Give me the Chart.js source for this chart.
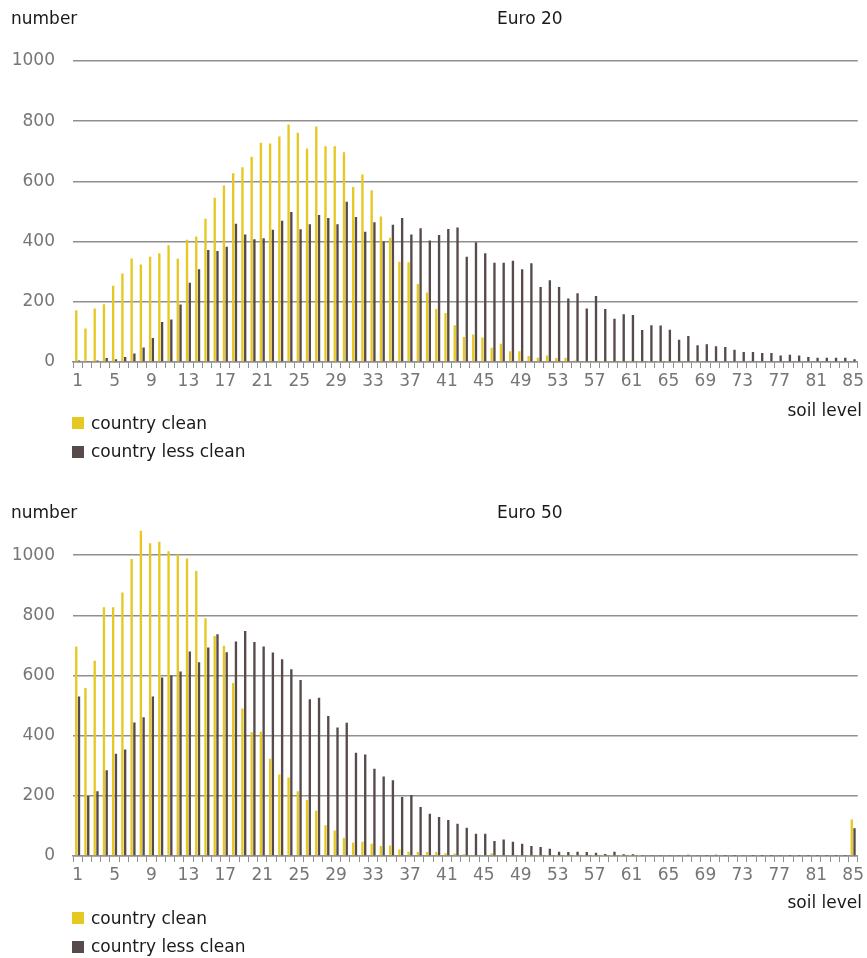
<!DOCTYPE html>
<html>
<head>
<meta charset="utf-8">
<script src="https://cdn.jsdelivr.net/npm/chart.js@4.4.1/dist/chart.umd.min.js"></script>
<style>
  html, body { margin: 0; padding: 0; background: #fff; overflow: hidden; }
  body { font-family: "DejaVu Sans", Verdana, sans-serif; width: 867px; height: 958px; }
  .panel { position: relative; width: 867px; }
  .panel canvas { position: absolute; left: 0; top: 0; }
  .txt { position: absolute; font-size: 17px; line-height: 20px; color: #1a1a1a; white-space: nowrap; }
  .sw { position: absolute; width: 12px; height: 12px; }
</style>
</head>
<body>

<div class="panel" id="p1" style="height:494px">
  <canvas id="euro20" width="867" height="494"></canvas>
  <span class="txt" style="left:11px; top:8px">number</span>
  <span class="txt" style="left:497px; top:8px">Euro 20</span>
  <span class="txt" style="right:5px; top:400px">soil level</span>
  <span class="sw" style="left:72px; top:417px; background:#E6C822"></span>
  <span class="txt" style="left:91px; top:413px">country clean</span>
  <span class="sw" style="left:72px; top:446px; background:#574A4B"></span>
  <span class="txt" style="left:91px; top:441px">country less clean</span>
</div>

<div class="panel" id="p2" style="height:464px">
  <canvas id="euro50" width="867" height="464"></canvas>
  <span class="txt" style="left:11px; top:8px">number</span>
  <span class="txt" style="left:497px; top:8px">Euro 50</span>
  <span class="txt" style="right:5px; top:398px">soil level</span>
  <span class="sw" style="left:72px; top:418px; background:#E6C822"></span>
  <span class="txt" style="left:91px; top:414px">country clean</span>
  <span class="sw" style="left:72px; top:447px; background:#574A4B"></span>
  <span class="txt" style="left:91px; top:442px">country less clean</span>
</div>

<script>
// soil levels 1..85
const soilLevels = [
  "1","2","3","4","5","6","7","8","9","10","11","12","13","14","15","16","17","18","19","20",
  "21","22","23","24","25","26","27","28","29","30","31","32","33","34","35","36","37","38","39","40",
  "41","42","43","44","45","46","47","48","49","50","51","52","53","54","55","56","57","58","59","60",
  "61","62","63","64","65","66","67","68","69","70","71","72","73","74","75","76","77","78","79","80",
  "81","82","83","84","85"
];

// Euro 20
const euro20Clean = [
  172,111,178,192,253,294,344,324,350,361,388,343,406,417,476,546,586,627,647,682,
  728,726,749,789,762,709,782,717,717,697,581,623,571,483,413,333,331,259,231,176,
  163,122,83,91,81,47,61,36,36,20,14,22,13,14,5,3,2,1,2,1,
  1,1,1,1,1,1,0,1,0,0,0,0,0,0,0,0,0,0,0,0,
  0,0,0,0,0
];
const euro20Less = [
  5,2,5,13,9,17,28,48,80,133,141,191,263,308,372,369,383,459,424,408,
  411,439,469,498,441,458,488,478,458,532,482,433,464,400,456,478,424,444,404,422,
  442,447,350,398,361,330,330,336,308,328,249,272,249,211,228,178,219,176,144,159,
  156,106,122,121,107,74,86,56,59,52,50,41,33,33,30,30,22,24,22,17,
  14,14,14,14,9
];

// Euro 50
const euro50Clean = [
  696,558,649,827,827,876,987,1081,1039,1044,1013,1002,989,947,790,731,699,575,490,411,
  413,323,271,261,215,186,150,102,85,61,44,47,41,33,35,22,14,13,13,13,
  9,8,6,3,2,9,2,2,2,1,1,1,1,1,1,1,1,1,1,1,
  1,1,0,0,0,0,0,0,0,0,0,0,0,0,0,0,0,0,0,0,
  0,0,0,0,121
];
const euro50Less = [
  530,199,215,285,340,354,444,461,530,593,600,613,680,644,693,737,677,713,748,711,
  696,676,654,621,585,521,526,465,427,443,343,337,290,264,252,196,203,163,140,130,
  120,107,94,74,74,50,55,47,41,33,30,24,14,13,14,13,11,7,14,6,
  6,3,2,3,2,2,4,2,1,4,1,1,2,1,1,1,2,1,1,1,
  1,1,1,1,92
];

const yTicksMax = 1000;
const yellow = "#E6C822";
const darkBrown = "#574A4B";
const gridGrey = "#8f8f8f";
const tickGrey = "#767676";
const fontFamily = "'DejaVu Sans', Verdana, sans-serif";

function makeChart(canvasId, clean, less, yMax, padTop) {
  const canvas = document.getElementById(canvasId);
  const xAxisHeight = canvas.height - 362;

  return new Chart(canvas.getContext("2d"), {
    type: "bar",
    data: {
      labels: soilLevels,
      datasets: [
        { label: "country clean", data: clean, backgroundColor: yellow, borderWidth: 0 },
        { label: "country less clean", data: less, backgroundColor: darkBrown, borderWidth: 0 },
      ],
    },
    options: {
      responsive: false,
      animation: false,
      categoryPercentage: 0.6,
      barPercentage: 0.85,
      layout: { padding: { top: padTop, right: 9, left: 0, bottom: 0 } },
      plugins: {
        legend: { display: false },
        tooltip: { enabled: false },
      },
      scales: {
        x: {
          offset: true,
          grid: {
            offset: true,
            drawOnChartArea: false,
            drawTicks: true,
            tickLength: 6,
            color: gridGrey,
            lineWidth: 1,
          },
          border: { display: true, color: gridGrey, width: 1.5 },
          ticks: {
            autoSkip: false,
            maxRotation: 0,
            minRotation: 0,
            padding: 3,
            color: tickGrey,
            font: { family: fontFamily, size: 17 },
            callback: function (value, index) {
              return index % 4 === 0 ? this.getLabelForValue(value) : "";
            },
          },
          afterFit: scale => { scale.height = xAxisHeight; },
        },
        y: {
          min: 0,
          max: yMax,
          grid: {
            drawTicks: false,
            lineWidth: 1.5,
            color: ctx => (ctx.tick && ctx.tick.value > yTicksMax ? "rgba(0,0,0,0)" : gridGrey),
          },
          border: { display: false },
          ticks: {
            stepSize: 200,
            padding: 18,
            color: tickGrey,
            font: { family: fontFamily, size: 17 },
            callback: value => (value > yTicksMax ? "" : value),
          },
          afterFit: scale => { scale.width = 73; },
        },
      },
    },
  });
}

makeChart("euro20", euro20Clean, euro20Less, 1000, 61);
makeChart("euro50", euro50Clean, euro50Less, 1100, 31);
</script>
</body>
</html>
